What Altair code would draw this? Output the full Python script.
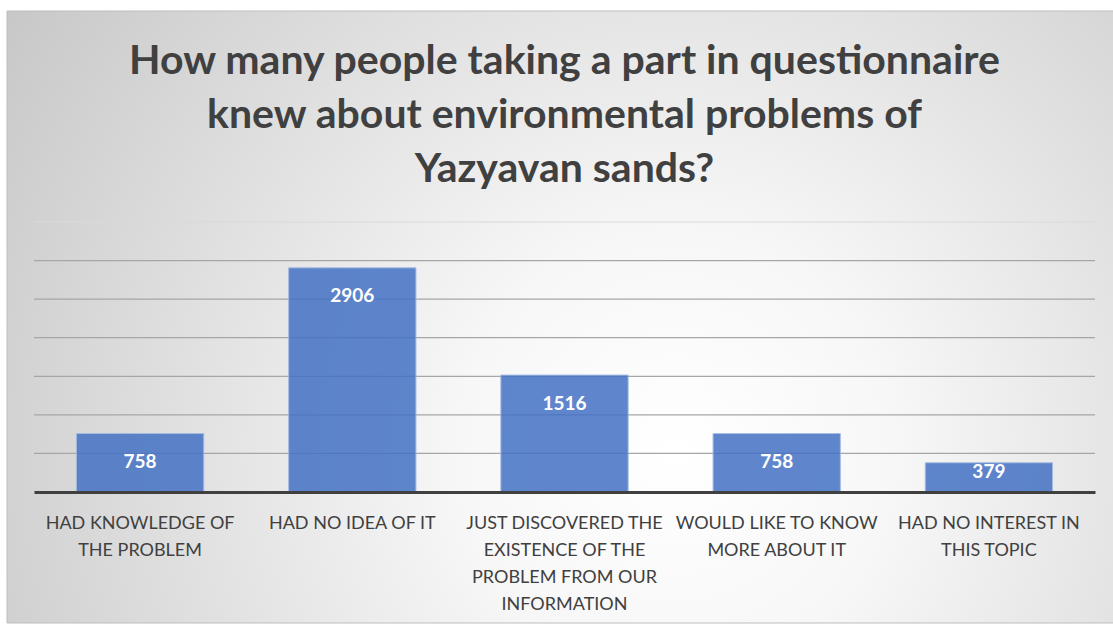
import altair as alt
import pandas as pd

# Survey answers and head counts
categories = [
    "HAD KNOWLEDGE OF|THE PROBLEM",
    "HAD NO IDEA OF IT",
    "JUST DISCOVERED THE|EXISTENCE OF THE|PROBLEM FROM OUR|INFORMATION",
    "WOULD LIKE TO KNOW|MORE ABOUT IT",
    "HAD NO INTEREST IN|THIS TOPIC",
]
counts = [758, 2906, 1516, 758, 379]

# Horizontal gridline levels
grid_levels = [500, 1000, 1500, 2000, 2500, 3000, 3500]

title_lines = [
    "How many people taking a part in questionnaire",
    "knew about environmental problems of",
    "Yazyavan sands?",
]

df = pd.DataFrame({"answer": categories, "count": counts})
grid_df = pd.DataFrame({"level": grid_levels})

FONT = "Lato"
TEXT_GREY = "#404040"
Y_SCALE = alt.Scale(domain=[0, 3500], nice=False)

x_enc = alt.X(
    "answer:N",
    sort=categories,
    title=None,
    scale=alt.Scale(paddingInner=0.4, paddingOuter=0.2),
    axis=alt.Axis(
        labelExpr="split(datum.label, '|')",
        labelAngle=0,
        labelFont=FONT,
        labelFontSize=18,
        labelColor=TEXT_GREY,
        labelLineHeight=27,
        labelPadding=22,
        labelLimit=260,
        ticks=False,
        domainColor=TEXT_GREY,
        domainWidth=3,
        grid=False,
        zindex=1,
    ),
)

# Soft radial backdrop behind the whole chart
backdrop = alt.Chart(pd.DataFrame({"k": [0]})).mark_rect(
    fill={
        "gradient": "radial",
        "x1": 0.6, "y1": 0.62, "r1": 0.0,
        "x2": 0.6, "y2": 0.62, "r2": 0.78,
        "stops": [
            {"offset": 0.0, "color": "#ffffff"},
            {"offset": 0.25, "color": "#f7f7f7"},
            {"offset": 1.0, "color": "#c2c2c2"},
        ],
    },
    stroke="#bdbdbd",
    strokeWidth=1,
).encode(
    x=alt.value(-27), x2=alt.value(1090),
    y=alt.value(-211), y2=alt.value(401),
)

grid = alt.Chart(grid_df).mark_rule(strokeWidth=1.2).encode(
    y=alt.Y("level:Q", scale=Y_SCALE, axis=None),
    color=alt.condition(
        "datum.level === 3500", alt.value("#d9d9d9"), alt.value("#a6a6a6")
    ),
)

bars = alt.Chart(df).mark_bar(
    color="#4472c4",
    opacity=0.85,
    stroke="#9db4e0",
    strokeWidth=1,
).encode(
    x=x_enc,
    y=alt.Y("count:Q", scale=Y_SCALE, axis=None, title=None),
)

# Value labels sit just inside the bar top; short bars keep them above the axis
labels = alt.Chart(df).transform_calculate(
    label_at="datum.count - min(370, datum.count - 265)"
).mark_text(
    font=FONT,
    fontSize=19,
    fontWeight="bold",
    color="white",
    baseline="middle",
).encode(
    x=alt.X("answer:N", sort=categories),
    y=alt.Y("label_at:Q", scale=Y_SCALE),
    text=alt.Text("count:Q", format="d"),
)

chart = alt.layer(backdrop, grid, bars, labels).properties(
    width=1061,
    height=270,
    padding={"left": 34, "top": 222, "right": 18, "bottom": 133},
    autosize=alt.AutoSizeParams(type="none"),
    title=alt.TitleParams(
        text=title_lines,
        anchor="middle",
        frame="group",
        font=FONT,
        fontSize=41,
        fontWeight="bold",
        color=TEXT_GREY,
        lineHeight=54,
        offset=-180,
    ),
).configure_view(stroke=None).configure(background="white")

chart.save("out.html", embed_options={"renderer": "svg", "actions": False})
